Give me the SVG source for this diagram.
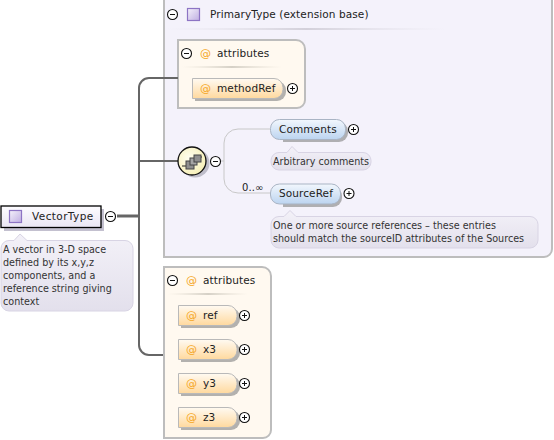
<svg xmlns="http://www.w3.org/2000/svg" width="554" height="440" viewBox="0 0 554 440">
<style>
text{font-family:"DejaVu Sans",Verdana,sans-serif;font-size:10.5px;fill:#222;letter-spacing:.1px}
.at{fill:#f5a623;font-size:11px}
.doc{font-size:9.6px;fill:#333;letter-spacing:0}
.pan{stroke:#bdbdbd;stroke-width:2}
.ctl{fill:#fff;stroke:#111;stroke-width:1.1}
.sym{stroke:#111;stroke-width:1;fill:none}
.callout{fill:url(#gDoc);stroke:#d8d4e4;stroke-width:1}
.attr{fill:url(#gAttr);stroke:#b9b9b9;stroke-width:1}
.elem{fill:url(#gElem);stroke:#a9b4c4;stroke-width:1}
.sh{fill:#8a8a8a;opacity:.65}
.tsq{fill:url(#gIcon);stroke:#8d74c4;stroke-width:1.2}
</style>
<defs>
<linearGradient id="gDoc" x1="0" y1="0" x2="0" y2="1"><stop offset="0" stop-color="#f3f1f8"/><stop offset="1" stop-color="#e3e0ec"/></linearGradient>
<linearGradient id="gAttr" x1="0" y1="0" x2="0" y2="1"><stop offset="0" stop-color="#fffaf2"/><stop offset="1" stop-color="#ffd99e"/></linearGradient>
<linearGradient id="gElem" x1="0" y1="0" x2="0" y2="1"><stop offset="0" stop-color="#f2f7fd"/><stop offset="1" stop-color="#bcd4f0"/></linearGradient>
<linearGradient id="gType" x1="0" y1="0" x2="0" y2="1"><stop offset="0" stop-color="#fdfcff"/><stop offset="1" stop-color="#e9e5f3"/></linearGradient>
<linearGradient id="gIcon" x1="0" y1="0" x2="1" y2="1"><stop offset="0" stop-color="#f5f2fb"/><stop offset="1" stop-color="#bfaee2"/></linearGradient>
<linearGradient id="gSep"><stop offset="0" stop-color="#e4e2ea" stop-opacity="0"/><stop offset=".5" stop-color="#d3d0da"/><stop offset="1" stop-color="#e4e2ea" stop-opacity="0"/></linearGradient>
<linearGradient id="gSepA"><stop offset="0" stop-color="#e6e0d4" stop-opacity="0"/><stop offset=".5" stop-color="#d5d0c6"/><stop offset="1" stop-color="#e6e0d4" stop-opacity="0"/></linearGradient>
<radialGradient id="gSeq" cx=".4" cy=".4" r=".7"><stop offset="0" stop-color="#fffef0"/><stop offset="1" stop-color="#f5eeb2"/></radialGradient>
<symbol id="minus" overflow="visible"><circle class="ctl" r="5"/><path class="sym" d="M-2.5 0H2.5"/></symbol>
<symbol id="plus" overflow="visible"><circle class="ctl" r="5"/><path class="sym" d="M-2.500 0H2.500M0-2.500V2.500"/></symbol>
</defs>

<g id="panel-primary">
<path class="pan" fill="#f4f2fb" d="M164-3H552V249a8 8 0 0 1-8 8H164Z"/>
<rect x="166" y="28" width="280" height="2" fill="url(#gSep)"/>
<use href="#minus" x="172.500" y="14.500"/>
<rect class="tsq" x="187.500" y="8.500" width="12" height="12"/>
<text x="210" y="18">PrimaryType (extension base)</text>
</g>

<g id="panel-attributes-primary">
<path class="pan" fill="#fff9f0" d="M178 40H296a9 9 0 0 1 9 9V100a8 8 0 0 1-8 8H178Z"/>
<rect x="182" y="66" width="100" height="2" fill="url(#gSepA)"/>
<use href="#minus" x="186.500" y="53.500"/>
<text class="at" x="200" y="57">@</text>
<text x="217" y="57">attributes</text>
</g>

<g id="connectors" fill="none" stroke="#666">
<path stroke-width="3" d="M117 216H139"/>
<path stroke-width="2" d="M178 78H149a10 10 0 0 0-10 10V345a10 10 0 0 0 10 10H164"/>
<path stroke-width="2" d="M139 161H178"/>
<path stroke-width="1" stroke="#c8c8c8" d="M221 161H224V143a14 14 0 0 1 14-14H270M224 161V179a14 14 0 0 0 14 14H270"/>
</g>

<g id="node-methodRef">
<path class="sh" d="M195 81H277a9 9 0 0 1 9 9V92a9 9 0 0 1-9 9H195Z"/>
<path class="attr" d="M192.500 78.500H274a9 9 0 0 1 9 9V89.500a9 9 0 0 1-9 9H192.500Z"/>
<text class="at" x="200" y="92">@</text>
<text x="217" y="92">methodRef</text>
<use href="#plus" x="292.500" y="88.500"/>
</g>

<g id="node-sequence">
<circle cx="195" cy="163" r="14.500" fill="#8a8a9a" opacity=".5"/>
<circle cx="192" cy="161" r="14" fill="url(#gSeq)" stroke="#111" stroke-width="1.300"/>
<path d="M182 166H187M197 157H202" stroke="#222" stroke-width="1.200"/>
<rect x="186" y="161" width="8" height="8" fill="#8f8f8f" stroke="#444"/>
<rect x="190" y="158" width="7" height="7" fill="#a5a5a5" stroke="#444"/>
<rect x="194" y="155" width="7" height="7" fill="#8f8f8f" stroke="#444"/>
<use href="#minus" x="215.500" y="161.500"/>
</g>

<g id="node-comments">
<path class="sh" d="M283 122H339a9 9 0 0 1 9 9V133a9 9 0 0 1-9 9H283Z"/>
<rect class="elem" x="270.500" y="119.500" width="75" height="20" rx="9"/>
<text x="279" y="133">Comments</text>
<use href="#plus" x="353.500" y="129.500"/>
</g>
<g id="doc-comments">
<path class="callout" d="M279 152.500H287L292 146.500L298 152.500H363a8 8 0 0 1 8 8V162a8 8 0 0 1-8 8H279a8 8 0 0 1-8-8V160.500a8 8 0 0 1 8-8Z"/>
<text class="doc" x="273" y="165">Arbitrary comments</text>
</g>

<g id="node-sourceref">
<text x="242" y="191" style="font-size:10px">0..∞</text>
<path class="sh" d="M283 187H333a9 9 0 0 1 9 9V198a9 9 0 0 1-9 9H283Z"/>
<rect class="elem" x="270.500" y="184" width="70" height="20" rx="9"/>
<text x="279" y="197">SourceRef</text>
<use href="#plus" x="349" y="193.500"/>
</g>
<g id="doc-sourceref">
<path class="callout" d="M279 216.500H284L290 210.500L296 216.500H530a8 8 0 0 1 8 8V240a8 8 0 0 1-8 8H279a8 8 0 0 1-8-8V224.500a8 8 0 0 1 8-8Z"/>
<text class="doc" x="273" y="229">One or more source references – these entries</text>
<text class="doc" x="273" y="242">should match the sourceID attributes of the Sources</text>
</g>

<g id="node-vectortype">
<rect x="4" y="209" width="100" height="22" fill="#a9a5bb" opacity=".7"/>
<rect x="1" y="206" width="100" height="21.500" fill="url(#gType)" stroke="#000" stroke-width="1.300"/>
<rect class="tsq" x="9.500" y="210.500" width="12" height="12"/>
<text x="32" y="220" style="letter-spacing:.4px">VectorType</text>
<use href="#minus" x="110.500" y="216.500"/>
</g>
<g id="doc-vectortype">
<path class="callout" d="M9 240.500H14L20 234L27 240.500H125a8 8 0 0 1 8 8V303a8 8 0 0 1-8 8H9a8 8 0 0 1-8-8V248.500a8 8 0 0 1 8-8Z"/>
<text class="doc" x="3" y="253">A vector in 3-D space</text>
<text class="doc" x="3" y="266">defined by its x,y,z</text>
<text class="doc" x="3" y="279">components, and a</text>
<text class="doc" x="3" y="292">reference string giving</text>
<text class="doc" x="3" y="305">context</text>
</g>

<g id="panel-attributes">
<path class="pan" fill="#fff9f0" d="M164 267H262a9 9 0 0 1 9 9V430a8 8 0 0 1-8 8H164Z"/>
<rect x="168" y="293" width="80" height="2" fill="url(#gSepA)"/>
<use href="#minus" x="172.500" y="280.500"/>
<text class="at" x="186" y="284">@</text>
<text x="203" y="284">attributes</text>
</g>
<g id="node-ref">
<path class="sh" d="M181 308H231a9 9 0 0 1 9 9V319a9 9 0 0 1-9 9H181Z"/>
<path class="attr" d="M178.500 305.500H228a9 9 0 0 1 9 9V316.500a9 9 0 0 1-9 9H178.500Z"/>
<text class="at" x="186" y="319">@</text><text x="203" y="319">ref</text>
<use href="#plus" x="244.500" y="315.500"/>
</g>
<g id="node-x3">
<path class="sh" d="M181 342H231a9 9 0 0 1 9 9V353a9 9 0 0 1-9 9H181Z"/>
<path class="attr" d="M178.500 339.500H228a9 9 0 0 1 9 9V350.500a9 9 0 0 1-9 9H178.500Z"/>
<text class="at" x="186" y="353">@</text><text x="203" y="353">x3</text>
<use href="#plus" x="244.500" y="349.500"/>
</g>
<g id="node-y3">
<path class="sh" d="M181 376H231a9 9 0 0 1 9 9V387a9 9 0 0 1-9 9H181Z"/>
<path class="attr" d="M178.500 373.500H228a9 9 0 0 1 9 9V384.500a9 9 0 0 1-9 9H178.500Z"/>
<text class="at" x="186" y="387">@</text><text x="203" y="387">y3</text>
<use href="#plus" x="244.500" y="383.500"/>
</g>
<g id="node-z3">
<path class="sh" d="M181 410H231a9 9 0 0 1 9 9V421a9 9 0 0 1-9 9H181Z"/>
<path class="attr" d="M178.500 407.500H228a9 9 0 0 1 9 9V418.500a9 9 0 0 1-9 9H178.500Z"/>
<text class="at" x="186" y="421">@</text><text x="203" y="421">z3</text>
<use href="#plus" x="244.500" y="417.500"/>
</g>
</svg>
